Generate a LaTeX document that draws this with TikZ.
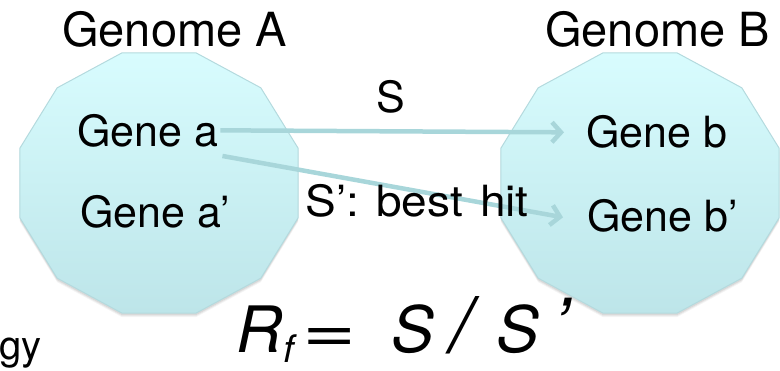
\documentclass[tikz,border=0pt]{standalone}
\usepackage{fontspec}
\setmainfont{TeX Gyre Heros}
\usetikzlibrary{arrows.meta}
\definecolor{polytop}{HTML}{D8FCFE}
\definecolor{polybot}{HTML}{BDE5E9}
\definecolor{polyedge}{HTML}{B4DADE}
\definecolor{arrowc}{HTML}{A8D6DA}
\tikzset{
  genetext/.style={inner sep=0pt, font=\fontsize{43}{43}\selectfont, anchor=base west},
  genometext/.style={inner sep=0pt, font=\fontsize{47}{47}\selectfont, anchor=base west},
  hitarrow/.style={draw=arrowc, line width=4.5pt, -{Straight Barb[length=9pt,width=20pt]}},
  polyfill/.style={top color=polytop, bottom color=polybot, draw=polyedge, line width=1pt}
}
\newcommand{\genomepoly}[2]{%
  \foreach \o/\a in {4/0.04,3/0.05,2/0.07}{
    \fill[black, opacity=\a] plot[samples at={15,45,...,345}] ({#1+144*cos(\x)},{#2+\o-134.6*sin(\x)}) -- cycle;
  }
  \path[polyfill] plot[samples at={15,45,...,345}] ({#1+144*cos(\x)},{#2-134.6*sin(\x)}) -- cycle;
}
\begin{document}
\begin{tikzpicture}[x=1pt,y=-1pt]
\useasboundingbox (0,0) rectangle (780,371);
\genomepoly{159}{183}
\genomepoly{640}{183}

\node[genometext] (gA) at (62,47) {Genome A};
\node[genometext] (gB) at (545,47) {Genome B};

\node[genetext] (ga) at (77,147) {Gene a};
\node[genetext] (gap) at (80,228) {Gene a’};
\node[genetext] (gb) at (586,148) {Gene b};
\node[genetext] (gbp) at (587,232) {Gene b’};

\coordinate (s1) at ([xshift=2pt,yshift=1pt]ga.east);
\coordinate (e1) at ([xshift=-22pt]gb.west);
\coordinate (s2) at ([xshift=4pt,yshift=-8pt]ga.south east);
\coordinate (e2) at ([xshift=-24pt,yshift=-1pt]gbp.west);
\draw[hitarrow] (s1) -- (e1);
\draw[hitarrow] (s2) -- (e2);

\node[genetext, anchor=base] (lS) at (391,113) {S};
\node[genetext, anchor=base] (lSp) at (417,217) {\scalebox{1.07}[1]{\spaceskip=16pt S’: best hit}};

\node[inner sep=0pt, anchor=base west, font=\fontsize{64}{64}\selectfont\itshape] (rf) at (236,353)
  {R\kern1pt\raisebox{-10pt}{\fontsize{38}{38}\selectfont f}\kern9pt\scalebox{1.45}[1]{=}\kern34pt S\kern17pt\scalebox{1.2}{/}\kern24pt S\kern14pt\scalebox{1.2}{’}};

\node[inner sep=0pt, anchor=base west, font=\fontsize{40}{40}\selectfont] (gy) at (-1,360) {gy};
\end{tikzpicture}
\end{document}
